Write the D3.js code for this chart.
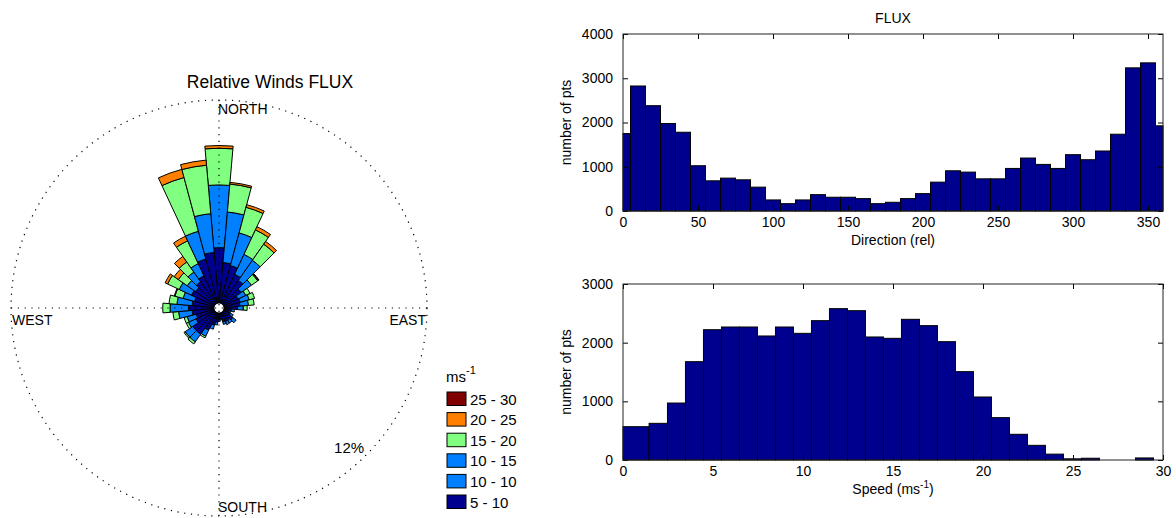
<!DOCTYPE html>
<html>
<head>
<meta charset="utf-8">
<script src="https://cdn.jsdelivr.net/npm/d3@7"></script>
<style>
  body { margin: 0; background: #fff; }
  text { font-family: "Liberation Sans", Arial, sans-serif; fill: #000; }
</style>
</head>
<body>
<svg id="chart" width="1176" height="518"></svg>
<script>
// ---- data ----
const dirCenters = [0, 10, 20, 30, 40, 50, 60, 70, 80, 90, 100, 110, 120, 130, 140, 150, 160, 170, 180,
  190, 200, 210, 220, 230, 240, 250, 260, 270, 280, 290, 300, 310, 320, 330, 340, 350, 360];
const dirCounts = [1750, 2825, 2380, 1977, 1780, 1023, 682, 743, 705, 539, 250, 166, 250, 370, 311, 311, 280, 166, 197,
  280, 393, 652, 909, 879, 727, 727, 962, 1197, 1053, 962, 1273, 1159, 1356, 1735, 3235, 3348, 1925];

const speedEdges = [0, 1.45, 2.47, 3.47, 4.47, 5.47, 6.47, 7.47, 8.47, 9.47, 10.47, 11.47, 12.47, 13.47, 14.47,
  15.47, 16.47, 17.47, 18.47, 19.47, 20.47, 21.47, 22.47, 23.47, 24.47, 25.47, 26.47, 27.47, 28.47, 29.47];
const speedCounts = [568, 625, 971, 1676, 2221, 2267, 2267, 2114, 2267, 2159, 2375, 2580, 2545, 2097, 2074,
  2398, 2290, 2017, 1506, 1074, 722, 438, 250, 100, 20, 30, 0, 0, 35];

const dirTicks = [0, 50, 100, 150, 200, 250, 300, 350];
const dirYTicks = [0, 1000, 2000, 3000, 4000];
const speedTicks = [0, 5, 10, 15, 20, 25, 30];
const speedYTicks = [0, 1000, 2000, 3000];

// wind rose: percent of points per 10 degree sector, per speed class
const roseDirs = [0, 10, 20, 30, 40, 50, 60, 70, 80, 90, 100, 110, 120, 130, 140, 150, 160, 170,
  180, 190, 200, 210, 220, 230, 240, 250, 260, 270, 280, 290, 300, 310, 320, 330, 340, 350];
const rose5to10 = [3.27, 2.4, 2.3, 1.9, 1.7, 1.3, 0.95, 1.0, 0.95, 0.8, 0.45, 0.32, 0.45, 0.7, 0.6, 0.6, 0.55, 0.35,
  0.4, 0.55, 0.75, 1.15, 1.6, 1.6, 1.2, 1.1, 1.3, 1.5, 1.3, 1.2, 1.5, 1.4, 1.6, 1.8, 2.7, 3.0];
const rose10to10 = [0, 0, 0, 0, 0, 0, 0, 0, 0, 0, 0, 0, 0, 0, 0, 0, 0, 0,
  0, 0, 0, 0, 0, 0, 0, 0, 0, 0, 0, 0, 0, 0, 0, 0, 0, 0];
const rose10to15 = [3.71, 3.0, 2.0, 1.3, 1.45, 0.75, 0.5, 0.55, 0.5, 0.35, 0.18, 0.1, 0.18, 0.24, 0.19, 0.19, 0.16, 0.07,
  0.1, 0.16, 0.25, 0.4, 0.55, 0.55, 0.5, 0.55, 0.8, 1.1, 0.9, 0.7, 0.8, 0.6, 0.7, 0.8, 1.7, 2.3];
const rose15to20 = [2.17, 1.66, 1.57, 1.6, 1.16, 0.45, 0.28, 0.33, 0.34, 0.22, 0, 0, 0, 0, 0, 0, 0, 0,
  0, 0, 0, 0.1, 0.15, 0.08, 0.14, 0.19, 0.34, 0.43, 0.47, 0.5, 0.76, 0.64, 0.73, 1.49, 3.29, 2.88];
const rose20to25 = [0.16, 0.1, 0.16, 0.21, 0.2, 0.05, 0, 0, 0, 0, 0, 0, 0, 0, 0, 0, 0, 0,
  0, 0, 0, 0, 0, 0, 0, 0, 0, 0, 0, 0.04, 0.16, 0.3, 0.4, 0.3, 0.5, 0.3];
const rose25to30 = [0, 0, 0, 0, 0, 0.04, 0, 0, 0, 0, 0, 0, 0, 0, 0, 0, 0, 0,
  0, 0, 0, 0, 0, 0, 0, 0, 0, 0, 0, 0, 0, 0, 0, 0, 0, 0];

const speedClasses = ["25 - 30", "20 - 25", "15 - 20", "10 - 15", "10 - 10", "5 - 10"];
const classColors = ["#800000", "#ff8000", "#80ff80", "#0080ff", "#0080ff", "#00008f"];
const navy = "#00008f";

const svg = d3.select("#chart");

// ---- wind rose ----
const cx = 219, cy = 308, R = 208, hole = 5, maxPct = 12;
const rScale = d3.scaleLinear().domain([0, maxPct]).range([hole, R]);
const rose = svg.append("g").attr("transform", `translate(${cx},${cy})`);

// inner to outer
const stacks = [rose5to10, rose10to10, rose10to15, rose15to20, rose20to25, rose25to30];
const stackColors = classColors.slice().reverse();
const arc = d3.arc();
const toRad = (d) => (d * Math.PI) / 180;

roseDirs.forEach((dir, i) => {
  let cum = 0;
  stacks.forEach((s, k) => {
    const v = s[i];
    if (v <= 0) return;
    rose.append("path")
      .attr("d", arc({
        innerRadius: rScale(cum),
        outerRadius: rScale(cum + v),
        startAngle: toRad(dir - 5),
        endAngle: toRad(dir + 5)
      }))
      .attr("fill", stackColors[k])
      .attr("stroke", "#000")
      .attr("stroke-width", 1);
    cum += v;
  });
});

const dotted = "1.2 5.6";
rose.append("circle")
  .attr("r", R)
  .attr("fill", "none")
  .attr("stroke", "#000")
  .attr("stroke-width", 1.2)
  .attr("stroke-dasharray", dotted);
rose.append("line")
  .attr("x1", -R).attr("x2", R).attr("y1", 0).attr("y2", 0)
  .attr("stroke", "#000").attr("stroke-width", 1.2).attr("stroke-dasharray", dotted);
rose.append("line")
  .attr("x1", 0).attr("x2", 0).attr("y1", -R).attr("y2", R)
  .attr("stroke", "#000").attr("stroke-width", 1.2).attr("stroke-dasharray", dotted);

rose.append("text").attr("x", -1).attr("y", -R + 14).style("font-size", "14px").text("NORTH");
rose.append("text").attr("x", -1).attr("y", R - 4).style("font-size", "14px").text("SOUTH");
rose.append("text").attr("x", -R + 1).attr("y", 17).style("font-size", "14px").text("WEST");
rose.append("text").attr("x", R - 1).attr("y", 17).attr("text-anchor", "end")
  .style("font-size", "14px").text("EAST");
rose.append("text")
  .attr("x", R * Math.SQRT1_2 - 2).attr("y", R * Math.SQRT1_2 - 2)
  .attr("text-anchor", "end").style("font-size", "15px").text(maxPct + "%");

svg.append("text").attr("x", 270).attr("y", 88).attr("text-anchor", "middle")
  .style("font-size", "17.5px").text("Relative Winds FLUX");

// legend
const legend = svg.append("g").attr("transform", "translate(447,392)");
const unit = legend.append("text").attr("x", -1).attr("y", -10).style("font-size", "15px");
unit.append("tspan").text("ms");
unit.append("tspan").attr("dy", -8).style("font-size", "11px").text("-1");
speedClasses.forEach((c, i) => {
  legend.append("rect")
    .attr("x", 0).attr("y", i * 20.6)
    .attr("width", 19).attr("height", 13.5)
    .attr("fill", classColors[i]).attr("stroke", "#000").attr("stroke-width", 1);
  legend.append("text")
    .attr("x", 23).attr("y", i * 20.6 + 12.5)
    .style("font-size", "15px").text(c);
});

// ---- histograms ----
function drawHist(opts) {
  const { left, right, top, bottom, xDomain, yDomain, xTicks, yTicks, bins, xLabel, title } = opts;
  const x = d3.scaleLinear().domain(xDomain).range([left, right]);
  const y = d3.scaleLinear().domain(yDomain).range([bottom, top]);
  const g = svg.append("g");

  g.selectAll("rect.bar")
    .data(bins)
    .join("rect")
    .attr("class", "bar")
    .attr("x", (d) => x(d.x0))
    .attr("width", (d) => x(d.x1) - x(d.x0))
    .attr("y", (d) => y(d.n))
    .attr("height", (d) => y(0) - y(d.n))
    .attr("fill", navy)
    .attr("stroke", "#000")
    .attr("stroke-width", 1);

  const tk = 5;
  const fmt = d3.format("d");
  const bottomAxis = d3.axisBottom(x).tickValues(xTicks).tickSize(-tk).tickPadding(6).tickFormat(fmt);
  const topAxis = d3.axisTop(x).tickValues(xTicks).tickSize(-tk).tickFormat("");
  const leftAxis = d3.axisLeft(y).tickValues(yTicks).tickSize(-tk).tickPadding(10).tickFormat(fmt);
  const rightAxis = d3.axisRight(y).tickValues(yTicks).tickSize(-tk).tickFormat("");

  const axes = [
    [bottomAxis, `translate(0,${bottom})`],
    [topAxis, `translate(0,${top})`],
    [leftAxis, `translate(${left},0)`],
    [rightAxis, `translate(${right},0)`]
  ];
  axes.forEach(([ax, tr]) => {
    const a = g.append("g").attr("transform", tr).call(ax);
    a.select(".domain").remove();
    a.selectAll("line").attr("stroke", "#000");
    a.selectAll("text").style("font-size", "14px").style("font-family", '"Liberation Sans", Arial, sans-serif');
  });

  g.append("rect")
    .attr("x", left).attr("y", top)
    .attr("width", right - left).attr("height", bottom - top)
    .attr("fill", "none").attr("stroke", "#222").attr("stroke-width", 1);

  g.append("text")
    .attr("transform", `translate(${left - 52},${(top + bottom) / 2}) rotate(-90)`)
    .attr("text-anchor", "middle").style("font-size", "14px")
    .text("number of pts");

  const xl = g.append("text")
    .attr("x", (left + right) / 2).attr("y", bottom + 34)
    .attr("text-anchor", "middle").style("font-size", "14px");
  xLabel.forEach((p) => {
    const t = xl.append("tspan").text(p.t);
    if (p.sup) t.attr("dy", -6).style("font-size", "10px");
    if (p.down) t.attr("dy", 6);
  });

  if (title) {
    g.append("text")
      .attr("x", (left + right) / 2).attr("y", top - 11)
      .attr("text-anchor", "middle").style("font-size", "14px")
      .text(title);
  }
}

const dirBins = dirCenters.map((c, i) => ({
  x0: Math.max(0, c - 5),
  x1: Math.min(360, c + 5),
  n: dirCounts[i]
}));
const speedBins = speedCounts.map((n, i) => ({
  x0: speedEdges[i],
  x1: i + 1 < speedEdges.length ? speedEdges[i + 1] : speedEdges[i] + 1,
  n: n
}));

drawHist({
  left: 623, right: 1163, top: 34, bottom: 211,
  xDomain: [0, 360], yDomain: [0, 4000],
  xTicks: dirTicks, yTicks: dirYTicks,
  bins: dirBins,
  xLabel: [{ t: "Direction (rel)" }],
  title: "FLUX"
});

drawHist({
  left: 623, right: 1163, top: 284, bottom: 460,
  xDomain: [0, 30], yDomain: [0, 3000],
  xTicks: speedTicks, yTicks: speedYTicks,
  bins: speedBins,
  xLabel: [{ t: "Speed (ms" }, { t: "-1", sup: true }, { t: ")", down: true }]
});
</script>
</body>
</html>
